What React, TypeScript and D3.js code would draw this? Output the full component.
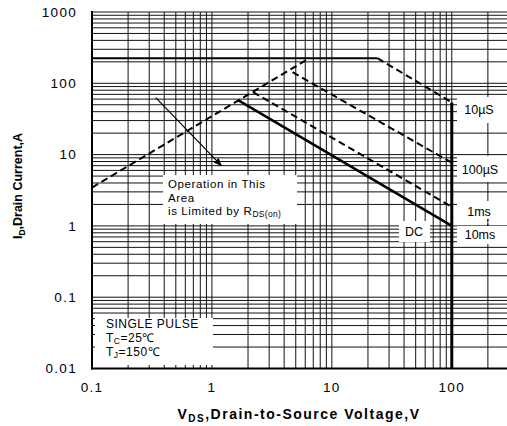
import React from "react";
import * as d3 from "d3";

const W = 507;
const H = 426;

// axis ticks
const xTicks = [0.1, 1, 10, 100];
const xTickLabels = ["0.1", "1", "10", "100"];
const yTicks = [0.01, 0.1, 1, 10, 100, 1000];
const yTickLabels = ["0.01", "0.1", "1", "10", "100", "1000"];

// SOA boundaries, V and A
const rdsV = [0.1, 6.5];
const rdsI = [3.45, 225];
const pkgV = [0.1, 24];
const pkgI = [225, 225];
const us10V = [24, 100];
const us10I = [225, 54];
const us100V = [4.7, 100];
const us100I = [143, 7.7];
const ms1V = [2.2, 100];
const ms1I = [75, 1.85];
const dcV = [1.65, 100];
const dcI = [58, 1.0];
const bvV = [100, 100];
const bvI = [54, 0.01];

// arrow of the Rds(on) note
const arrowV = [0.34, 1.2];
const arrowI = [63, 7];

const font = "'Liberation Sans', Arial, sans-serif";

export default function App() {
  const x = d3.scaleLog().domain([0.1, 300]).range([92, 509]);
  const y = d3.scaleLog().domain([0.01, 1000]).range([368.5, 12]);

  const line = d3
    .line<[number, number]>()
    .x((d) => x(d[0]))
    .y((d) => y(d[1]));
  const path = (vs: number[], is: number[]) =>
    line(vs.map((v, i) => [v, is[i]] as [number, number])) || "";

  const vGrid: number[] = [];
  [0.1, 1, 10, 100].forEach((dec) => {
    d3.range(1, 10).forEach((m) => {
      const v = +(dec * m).toPrecision(3);
      if (v <= 300) vGrid.push(v);
    });
  });
  const hGrid: number[] = [];
  [0.01, 0.1, 1, 10, 100].forEach((dec) => {
    d3.range(1, 10).forEach((m) => hGrid.push(+(dec * m).toPrecision(3)));
  });
  hGrid.push(1000);

  const dash = "7,4";
  const a0 = [x(arrowV[0]), y(arrowI[0])];
  const a1 = [x(arrowV[1]), y(arrowI[1])];

  return (
    <svg
      width={W}
      height={H}
      style={{ position: "absolute", left: 0, top: 0, background: "#fff" }}
      fontFamily={font}
    >
      <defs>
        <clipPath id="plot">
          <rect x={92} y={11} width={W - 92} height={358} />
        </clipPath>
        <marker id="head" viewBox="0 0 10 10" refX={9} refY={5} markerWidth={7} markerHeight={7} orient="auto">
          <path d="M0,1 L10,5 L0,9 z" fill="#000" />
        </marker>
      </defs>
      <rect width={W} height={H} fill="#fff" />

      <g clipPath="url(#plot)" stroke="#111" strokeWidth={1}>
        {vGrid.map((v) => (
          <line key={"v" + v} x1={x(v)} x2={x(v)} y1={y(1000)} y2={y(0.01)} />
        ))}
        {hGrid.map((v) => (
          <line key={"h" + v} x1={92} x2={W} y1={y(v)} y2={y(v)} />
        ))}
      </g>

      {/* boundaries */}
      <g clipPath="url(#plot)" fill="none" stroke="#000">
        <path d={path(pkgV, pkgI)} strokeWidth={2} />
        <path d={path(rdsV, rdsI)} strokeWidth={2} strokeDasharray={dash} />
        <path d={path(us10V, us10I)} strokeWidth={2} strokeDasharray={dash} />
        <path d={path(us100V, us100I)} strokeWidth={2} strokeDasharray={dash} />
        <path d={path(ms1V, ms1I)} strokeWidth={2} strokeDasharray={dash} />
        <path d={path(dcV, dcI)} strokeWidth={2.5} />
        <path d={path(bvV, bvI)} strokeWidth={3} />
      </g>

      {/* axes */}
      <line x1={92} x2={92} y1={11} y2={369.5} stroke="#000" strokeWidth={2} />
      <line x1={91} x2={W} y1={368.5} y2={368.5} stroke="#000" strokeWidth={2} />

      <g fontSize={13.5} fill="#000">
        {yTicks.map((t, i) => (
          <text key={t} x={77} y={y(t)} dy="0.35em" textAnchor="end" letterSpacing={1.3}>
            {yTickLabels[i]}
          </text>
        ))}
        {xTicks.map((t, i) => (
          <text key={t} x={x(t)} y={392} textAnchor="middle" letterSpacing={1.3}>
            {xTickLabels[i]}
          </text>
        ))}
      </g>

      <text x={299} y={419} textAnchor="middle" fontSize={14} fontWeight="bold" letterSpacing={1.5}>
        V<tspan fontSize={10} dy={3}>DS</tspan>
        <tspan dy={-3}>,Drain-to-Source Voltage,V</tspan>
      </text>
      <text
        transform="translate(22,186) rotate(-90)"
        textAnchor="middle"
        fontSize={12.5}
        fontWeight="bold"
      >
        I<tspan fontSize={8.5} dy={3}>D</tspan>
        <tspan dy={-3}>,Drain Current,A</tspan>
      </text>

      {/* arrow note */}
      <line x1={a0[0]} y1={a0[1]} x2={a1[0]} y2={a1[1]} stroke="#000" strokeWidth={1.2} markerEnd="url(#head)" />
      <rect x={163} y={175} width={134} height={49} fill="#fff" />
      <g fontSize={11.5} fill="#000" letterSpacing={0.6}>
        <text x={168} y={188}>Operation in This</text>
        <text x={168} y={201.5}>Area</text>
        <text x={168} y={215}>
          is Limited by R<tspan fontSize={8.5} dy={2} letterSpacing={0.3}>DS(on)</tspan>
        </text>
      </g>

      {/* single pulse note */}
      <rect x={95} y={318} width={118} height={47} fill="#fff" />
      <g fontSize={12} fill="#000" letterSpacing={0.5}>
        <text x={106} y={328}>SINGLE PULSE</text>
        <text x={106} y={342}>
          T<tspan fontSize={8.5} dy={2}>C</tspan>
          <tspan dy={-2}>=25℃</tspan>
        </text>
        <text x={106} y={356}>
          T<tspan fontSize={8.5} dy={2}>J</tspan>
          <tspan dy={-2}>=150℃</tspan>
        </text>
      </g>

      {/* curve labels */}
      <g fill="#fff">
        <rect x={457} y={97} width={50} height={26} />
        <rect x={457} y={156} width={50} height={26} />
        <rect x={457} y={201} width={50} height={18} />
        <rect x={457} y={226} width={50} height={18} />
        <rect x={399} y={221} width={31} height={21} />
      </g>
      <g fontSize={12.5} fill="#000" textAnchor="middle">
        <text x={479} y={114}>10µS</text>
        <text x={480} y={174}>100µS</text>
        <text x={479} y={216}>1ms</text>
        <text x={480} y={239}>10ms</text>
        <text x={414} y={236}>DC</text>
      </g>
      <g stroke="#000" strokeWidth={1}>
        <line x1={x(200)} x2={x(200)} y1={219} y2={226} strokeDasharray="2,3" />
      </g>
    </svg>
  );
}
